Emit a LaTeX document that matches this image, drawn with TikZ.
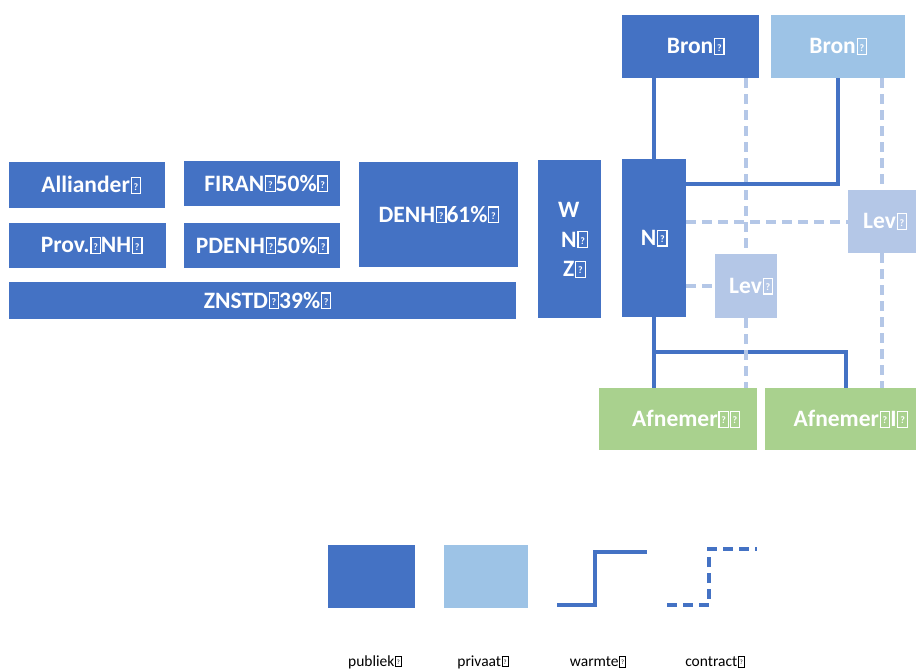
\documentclass[tikz,border=0pt]{standalone}
\usepackage{fontspec}
\setmainfont{Carlito}
\definecolor{pub}{HTML}{4472C4}
\definecolor{priv}{HTML}{9DC3E6}
\definecolor{levc}{HTML}{B4C7E7}
\definecolor{afn}{HTML}{A9D18E}
\newcommand\qb{\kern0.03em{\setlength\fboxsep{0pt}\setlength\fboxrule{0.05em}\fbox{\makebox[0.35em]{\rule{0pt}{0.62em}\raisebox{0.12em}{\scalebox{0.42}{?}}}}}}
\tikzset{
  blk/.style={rectangle, inner sep=0pt, anchor=north west, text=white,
    font=\fontsize{23.5}{26}\selectfont\bfseries},
  pubbox/.style={blk, fill=pub},
  privbox/.style={blk, fill=priv},
  levbox/.style={blk, fill=levc},
  afnbox/.style={blk, fill=afn},
  warm/.style={draw=pub, line width=4pt},
  contr/.style={draw=levc, line width=4pt, dash pattern=on 10pt off 6pt},
  legwarm/.style={draw=pub, line width=3.5pt},
  legcontr/.style={draw=pub, line width=3.5pt, dash pattern=on 10pt off 6pt},
  leglbl/.style={inner sep=0pt, text=black, font=\fontsize{15.5}{17}\selectfont}
}
\begin{document}
\begin{tikzpicture}[x=1pt,y=-1pt]
\useasboundingbox (0,0) rectangle (916,671);
% boxes
\node[pubbox, minimum width=137pt, minimum height=63pt] (bron1) at (622,15) {\hspace*{10pt}Bron\qb};
\node[privbox, minimum width=134pt, minimum height=63pt] (bron2) at (771,15) {Bron\qb};
\node[pubbox, minimum width=156pt, minimum height=46pt] (alli) at (9,162) {\hspace*{8pt}Alliander\qb};
\node[pubbox, minimum width=156pt, minimum height=45pt] (firan) at (184,161) {\hspace*{8pt}FIRAN\qb 50\%\qb};
\node[pubbox, minimum width=157pt, minimum height=45pt] (provnh) at (9,223) {\hspace*{8pt}Prov.\qb NH\qb};
\node[pubbox, minimum width=156pt, minimum height=45pt] (pdenh) at (184,223) {PDENH\qb 50\%\qb};
\node[pubbox, minimum width=159pt, minimum height=105pt] (denh) at (359,162) {DENH\qb 61\%\qb};
\node[pubbox, minimum width=507pt, minimum height=37pt] (znstd) at (9,282) {\hspace*{10pt}ZNSTD\qb 39\%\qb};
\node[pubbox, minimum width=63pt, minimum height=158pt] (wnz) at (538,160) {};
\node[inner sep=0pt, text=white, font=\fontsize{23.5}{29.5}\selectfont\bfseries, align=left, anchor=west] (wnzt) at (558,240) {W\\\hspace*{3pt}N\qb\\\hspace*{5pt}Z\qb};
\node[pubbox, minimum width=64pt, minimum height=158pt] (n) at (622,159) {N\qb};
\node[levbox, minimum width=62pt, minimum height=64pt] (lev1) at (715,254) {\hspace*{10pt}Lev\qb};
\node[levbox, minimum width=68pt, minimum height=63pt] (lev2) at (848,190) {\hspace*{6pt}Lev\qb};
\node[afnbox, minimum width=158pt, minimum height=62pt] (afn1) at (599,388) {\hspace*{16pt}Afnemer\qb\qb};
\node[afnbox, minimum width=151pt, minimum height=62pt] (afn2) at (765,388) {\hspace*{20pt}Afnemer\qb I\qb};
% helper coordinates
\coordinate (h1) at (0,184);
\coordinate (h2) at (0,352);
\coordinate (v2) at (846,0);
% contract lines (upper)
\draw[contr] (bron1.south -| lev1.north) -- (lev1.north);
\draw[contr] (bron2.south -| lev2.north) -- (lev2.north);
\draw[contr] (lev2.south) -- (afn2.north -| lev2.south);
\draw[contr] (n.east |- lev2.west) -- (lev2.west);
\draw[contr] (n.east |- lev1.west) -- (lev1.west);
% heat lines
\draw[warm] (bron1.south -| n.north) -- (n.north);
\draw[warm] (n.east |- h1) -| (bron2.south);
\draw[warm] (n.south) -- (afn1.north -| n.south);
\draw[warm] (n.south |- h2) -| (afn2.north -| v2);
\draw[contr] (lev1.south) -- (afn1.north -| lev1.south);
% legend
\node[pubbox, minimum width=87pt, minimum height=63pt] (lpub) at (328,545) {};
\node[privbox, minimum width=84pt, minimum height=63pt] (lpriv) at (444,545) {};
\coordinate (lw1) at (557,605);
\coordinate (lw2) at (595,552);
\coordinate (lw3) at (647,552);
\draw[legwarm] (lw1) -| (lw2) -- (lw3);
\coordinate (lc1) at (667,605);
\coordinate (lc2) at (709,549);
\coordinate (lc3) at (757,549);
\draw[legcontr] (lc1) -| (lc2) -- (lc3);
\node[leglbl] (tpub) at (375,662) {publiek\qb};
\node[leglbl] (tpriv) at (483,662) {privaat\qb};
\node[leglbl] (twarm) at (598,662) {warmte\qb};
\node[leglbl] (tcontr) at (715,662) {contract\qb};
\end{tikzpicture}
\end{document}
